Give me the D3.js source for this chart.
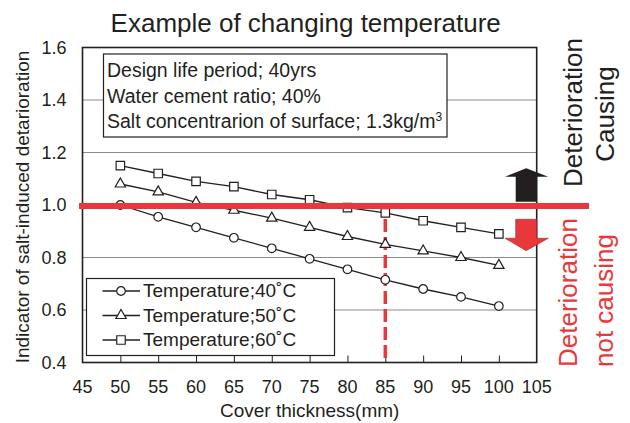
<!DOCTYPE html>
<meta charset="utf-8">

<!-- Load d3.js -->
<script src="https://d3js.org/d3.v7.min.js"></script>

<style>
  body { margin: 0; background: #fff; }
  text { font-family: "Liberation Sans", Arial, Helvetica, sans-serif; fill: #231f20; }
</style>

<!-- Create a div where the graph will take place -->
<div id="my_dataviz"></div>

<script>

// data
var thickness = [50, 55, 60, 65, 70, 75, 80, 85, 90, 95, 100]
var temp40 = [1.00, 0.955, 0.915, 0.875, 0.835, 0.795, 0.755, 0.715, 0.68, 0.65, 0.615]
var temp50 = [1.08, 1.05, 1.01, 0.98, 0.95, 0.915, 0.88, 0.85, 0.825, 0.80, 0.77]
var temp60 = [1.15, 1.12, 1.09, 1.07, 1.04, 1.02, 0.99, 0.97, 0.94, 0.915, 0.89]
var seriesNames = ["Temperature;40˚C", "Temperature;50˚C", "Temperature;60˚C"]
var xTicks = [45, 50, 55, 60, 65, 70, 75, 80, 85, 90, 95, 100, 105]
var yTicks = [0.4, 0.6, 0.8, 1.0, 1.2, 1.4, 1.6]
var notes = ["Design life period; 40yrs", "Water cement ratio; 40%", "Salt concentrarion of surface; 1.3kg/m"]
var threshold = 1.0
var designCover = 85

var red = "#e8383b"

// svg at the size of the window
var width = 630, height = 423
var svg = d3.select("#my_dataviz")
  .append("svg")
    .attr("width", width)
    .attr("height", height)

// plot area
var plot = {left: 82.5, right: 536.7, top: 47.5, bottom: 362.5}

var x = d3.scaleLinear()
  .domain([45, 105])
  .range([plot.left, plot.right])

var y = d3.scaleLinear()
  .domain([0.4, 1.6])
  .range([plot.bottom, plot.top])

// horizontal grid lines
svg.selectAll("grid")
  .data(yTicks.slice(1, -1))
  .enter()
  .append("line")
    .attr("x1", plot.left).attr("x2", plot.right)
    .attr("y1", function(d) { return y(d) }).attr("y2", function(d) { return y(d) })
    .style("stroke", "#8c8c8c")
    .style("stroke-width", 1.2)

// bottom ticks pointing inside
svg.append("g")
  .attr("transform", "translate(0," + plot.bottom + ")")
  .call(d3.axisTop(x).tickValues(xTicks.slice(1, -1)).tickSize(7).tickFormat(""))
  .call(function(g) { g.select(".domain").remove() })
  .selectAll("line").style("stroke", "#231f20")

// tick labels
svg.selectAll("xlab")
  .data(xTicks)
  .enter()
  .append("text")
    .attr("x", function(d) { return x(d) })
    .attr("y", 393)
    .attr("text-anchor", "middle")
    .style("font-size", "18px")
    .text(function(d) { return d })

svg.selectAll("ylab")
  .data(yTicks)
  .enter()
  .append("text")
    .attr("x", 66.5)
    .attr("y", function(d) { return y(d) })
    .attr("dy", "0.36em")
    .attr("text-anchor", "end")
    .style("font-size", "18px")
    .text(function(d) { return d3.format(".1f")(d) })

// frame
svg.append("rect")
  .attr("x", plot.left).attr("y", plot.top)
  .attr("width", plot.right - plot.left)
  .attr("height", plot.bottom - plot.top)
  .style("fill", "none")
  .style("stroke", "#231f20")
  .style("stroke-width", 1.6)

// annotation box
var note = svg.append("g")
note.append("rect")
  .attr("x", 103.5).attr("y", 54)
  .attr("width", 343.5).attr("height", 83)
  .style("fill", "#fff")
  .style("stroke", "#231f20")
  .style("stroke-width", 1.2)
var noteText = note.selectAll("notes")
  .data(notes)
  .enter()
  .append("text")
    .attr("x", 107)
    .attr("y", function(d, i) { return 77 + i * 25.5 })
    .style("font-size", "19.5px")
    .text(function(d) { return d })
noteText.filter(function(d, i) { return i == 2 })
  .append("tspan")
    .attr("dy", -7)
    .style("font-size", "12px")
    .text("3")

// dashed design line
svg.append("line")
  .attr("x1", x(designCover)).attr("x2", x(designCover))
  .attr("y1", y(temp60[thickness.indexOf(designCover)]) + 6)
  .attr("y2", plot.bottom)
  .style("stroke", red)
  .style("stroke-width", 3.5)
  .style("stroke-dasharray", "13,5")

// series lines and markers
var series = [temp40, temp50, temp60]
var shapes = [d3.symbolCircle, d3.symbolTriangle, d3.symbolSquare]
var sizes = [58, 46, 72]

var line = d3.line()
  .x(function(d, i) { return x(thickness[i]) })
  .y(function(d) { return y(d) })

series.forEach(function(s, k) {
  svg.append("path")
    .datum(s)
    .attr("d", line)
    .style("fill", "none")
    .style("stroke", "#231f20")
    .style("stroke-width", 1.3)
  svg.selectAll("marker" + k)
    .data(s)
    .enter()
    .append("path")
      .attr("d", d3.symbol().type(shapes[k]).size(sizes[k]))
      .attr("transform", function(d, i) { return "translate(" + x(thickness[i]) + "," + y(d) + ")" })
      .style("fill", "#fff")
      .style("stroke", "#231f20")
      .style("stroke-width", 1.2)
})

// legend
var legend = svg.append("g")
legend.append("rect")
  .attr("x", 86.5).attr("y", 278.5)
  .attr("width", 248).attr("height", 77)
  .style("fill", "#fff")
  .style("stroke", "#231f20")
  .style("stroke-width", 1.2)
seriesNames.forEach(function(name, k) {
  var by = 297 + k * 24.5
  legend.append("line")
    .attr("x1", 102.5).attr("x2", 140)
    .attr("y1", by - 6).attr("y2", by - 6)
    .style("stroke", "#231f20")
    .style("stroke-width", 1.3)
  legend.append("path")
    .attr("d", d3.symbol().type(shapes[k]).size(sizes[k]))
    .attr("transform", "translate(121," + (by - 6) + ")")
    .style("fill", "#fff")
    .style("stroke", "#231f20")
    .style("stroke-width", 1.2)
  legend.append("text")
    .attr("x", 143)
    .attr("y", by)
    .style("font-size", "19px")
    .text(name)
})

// threshold line
svg.append("line")
  .attr("x1", 79).attr("x2", 589)
  .attr("y1", y(threshold) + 1).attr("y2", y(threshold) + 1)
  .style("stroke", red)
  .style("stroke-width", 6)

// arrows
var ax = (515.7 + 536.7) / 2
var up = [[515.7, 201.7], [515.7, 176.7], [505, 176.7], [ax, 168.3], [548.3, 176.7], [536.7, 176.7], [536.7, 201.7]]
var down = [[515.7, 219.3], [515.7, 238.3], [505, 238.3], [ax, 250.7], [548.3, 238.3], [536.7, 238.3], [536.7, 219.3]]
svg.append("polygon")
  .attr("points", up.join(" "))
  .style("fill", "#231f20")
svg.append("polygon")
  .attr("points", down.join(" "))
  .style("fill", red)
  .style("stroke", "#9a2a2a")
  .style("stroke-width", 0.6)

// side texts
function sideText(tx, ty, anchor, color, txt) {
  svg.append("text")
    .attr("transform", "translate(" + tx + "," + ty + ") rotate(-90)")
    .attr("text-anchor", anchor)
    .style("font-size", "26px")
    .style("fill", color)
    .text(txt)
}
sideText(581.5, 112.5, "middle", "#231f20", "Deterioration")
sideText(613.5, 114, "middle", "#231f20", "Causing")
sideText(577, 367, "start", red, "Deterioration")
sideText(613, 367, "start", red, "not causing")

// titles
svg.append("text")
  .attr("x", 305.7)
  .attr("y", 31.5)
  .attr("text-anchor", "middle")
  .style("font-size", "26px")
  .text("Example of changing temperature")

svg.append("text")
  .attr("x", 309.7)
  .attr("y", 416.5)
  .attr("text-anchor", "middle")
  .style("font-size", "19px")
  .text("Cover thickness(mm)")

svg.append("text")
  .attr("transform", "translate(29,207) rotate(-90)")
  .attr("text-anchor", "middle")
  .style("font-size", "19px")
  .text("Indicator of salt-induced detarioration")

</script>
